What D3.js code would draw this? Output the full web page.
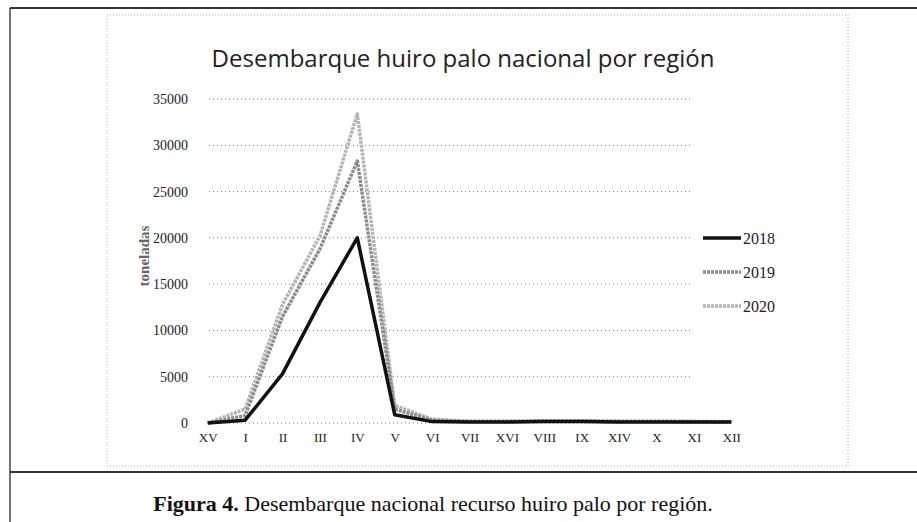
<!DOCTYPE html>
<html>
<head>
<meta charset="utf-8">
<script src="https://cdn.jsdelivr.net/npm/d3@7"></script>
<style>
  html, body { margin: 0; padding: 0; background: #fff; }
  svg { display: block; }
</style>
</head>
<body>
<div id="chart"></div>
<script>
// Regions (north to south order used in the figure)
const regions = ['XV', 'I', 'II', 'III', 'IV', 'V', 'VI', 'VII', 'XVI', 'VIII', 'IX', 'XIV', 'X', 'XI', 'XII'];

// Landings, tonnes
const landings2018 = [0, 300, 5300, 13000, 20000, 900, 150, 100, 100, 150, 150, 100, 100, 100, 100];
const landings2019 = [0, 800, 11500, 18800, 28300, 1500, 300, 150, 150, 200, 200, 150, 150, 150, 100];
const landings2020 = [0, 1500, 12800, 20200, 33400, 1900, 400, 200, 200, 250, 250, 200, 200, 150, 150];

const seriesNames = ['2018', '2019', '2020'];
const yTicks = [0, 5000, 10000, 15000, 20000, 25000, 30000, 35000];

const W = 917, H = 522;
const plot = { left: 189, right: 750, top: 99, bottom: 423 };

const svg = d3.select('#chart').append('svg')
    .attr('width', W)
    .attr('height', H);

// Page frame: outer border, top rule, caption divider
svg.append('line').attr('x1', 10).attr('x2', 917).attr('y1', 8).attr('y2', 8)
    .attr('stroke', '#333').attr('stroke-width', 2);
svg.append('line').attr('x1', 10).attr('x2', 10).attr('y1', 8).attr('y2', 522)
    .attr('stroke', '#444').attr('stroke-width', 1.5);
svg.append('line').attr('x1', 10).attr('x2', 917).attr('y1', 472).attr('y2', 472)
    .attr('stroke', '#333').attr('stroke-width', 2);

// Chart area border (faint dotted, like the scan)
svg.append('rect')
    .attr('x', 107).attr('y', 15).attr('width', 741).attr('height', 451)
    .attr('fill', 'none')
    .attr('stroke', '#aaa')
    .attr('stroke-width', 1)
    .attr('stroke-dasharray', '1,2');

const x = d3.scalePoint()
    .domain(regions)
    .range([plot.left, plot.right])
    .padding(0.5);

const y = d3.scaleLinear()
    .domain([0, 35000])
    .range([plot.bottom, plot.top]);

// Gridlines
svg.append('g')
    .selectAll('line')
    .data(yTicks)
    .join('line')
    .attr('x1', plot.left + 20)
    .attr('x2', plot.right - 60)
    .attr('y1', d => y(d))
    .attr('y2', d => y(d))
    .attr('stroke', '#777')
    .attr('stroke-width', 1)
    .attr('stroke-dasharray', '1,3');

// Y axis labels
const yAxis = d3.axisLeft(y).tickValues(yTicks).tickSize(0).tickPadding(0).tickFormat(d3.format('d'));
svg.append('g')
    .attr('transform', `translate(${plot.left},0)`)
    .call(yAxis)
    .call(g => g.select('.domain').remove())
    .selectAll('text')
    .attr('x', -1)
    .style('font-family', '"Liberation Serif", serif')
    .style('font-size', '14px')
    .style('fill', '#222');

// X axis labels
const xAxis = d3.axisBottom(x).tickSize(0).tickPadding(0);
svg.append('g')
    .attr('transform', `translate(0,${plot.bottom + 10})`)
    .call(xAxis)
    .call(g => g.select('.domain').remove())
    .selectAll('text')
    .style('font-family', '"Liberation Serif", serif')
    .style('font-size', '13px')
    .style('fill', '#222');

// Axis title
svg.append('text')
    .attr('transform', `translate(149,${(plot.top + plot.bottom) / 2 - 5}) rotate(-90)`)
    .attr('text-anchor', 'middle')
    .style('font-family', '"Liberation Serif", serif')
    .style('font-weight', 700)
    .style('font-size', '15px')
    .style('fill', '#666')
    .text('toneladas');

// Chart title
svg.append('text')
    .attr('x', 463)
    .attr('y', 67)
    .attr('text-anchor', 'middle')
    .style('font-family', '"Open Sans", sans-serif')
    .style('font-size', '24px')
    .style('fill', '#222')
    .text('Desembarque huiro palo nacional por región');

// Series
const series = [
    { name: seriesNames[0], values: landings2018, color: '#111', dash: null },
    { name: seriesNames[1], values: landings2019, color: '#8c8c8c', dash: '3,1' },
    { name: seriesNames[2], values: landings2020, color: '#b4b4b4', dash: '3,1' }
];

const line = d3.line()
    .x((d, i) => x(regions[i]))
    .y(d => y(d));

svg.append('g')
    .selectAll('path')
    .data(series.slice().reverse())
    .join('path')
    .attr('d', d => line(d.values))
    .attr('fill', 'none')
    .attr('stroke', d => d.color)
    .attr('stroke-width', 3.5)
    .attr('stroke-linejoin', 'round')
    .attr('stroke-dasharray', d => d.dash);

// Legend
const legend = svg.append('g')
    .selectAll('g')
    .data(series)
    .join('g')
    .attr('transform', (d, i) => `translate(703,${238 + i * 34})`);

legend.append('line')
    .attr('x1', 0).attr('x2', 38)
    .attr('stroke', d => d.color)
    .attr('stroke-width', 3.5)
    .attr('stroke-dasharray', d => d.dash);

legend.append('text')
    .attr('x', 40)
    .attr('dy', '0.35em')
    .style('font-family', '"Liberation Serif", serif')
    .style('font-size', '16px')
    .style('fill', '#222')
    .text(d => d.name);

// Caption
const caption = svg.append('text')
    .attr('x', 433)
    .attr('y', 511)
    .attr('text-anchor', 'middle')
    .style('font-family', '"Liberation Serif", serif')
    .style('font-size', '22px')
    .style('fill', '#111');
caption.append('tspan').style('font-weight', 700).text('Figura 4.');
caption.append('tspan').text(' Desembarque nacional recurso huiro palo por región.');
</script>
</body>
</html>
